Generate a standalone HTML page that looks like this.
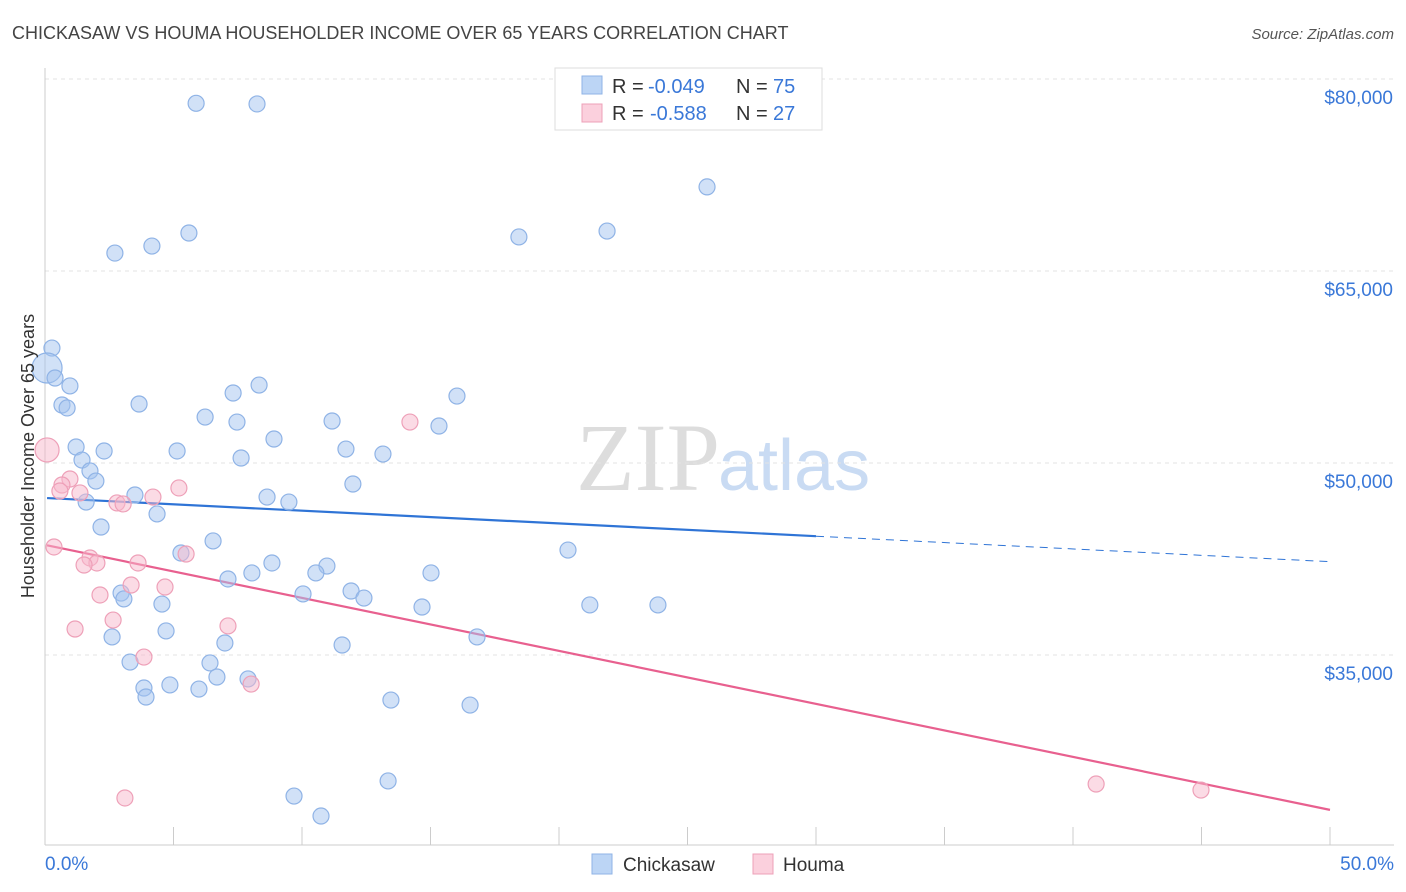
<!DOCTYPE html>
<html><head><meta charset="utf-8"><style>
body{margin:0;background:#fff;font-family:"Liberation Sans",sans-serif;}
svg{display:block}
</style></head><body>
<svg id="chart" width="1406" height="892">
<text x="12" y="39" font-size="18" fill="#444">CHICKASAW VS HOUMA HOUSEHOLDER INCOME OVER 65 YEARS CORRELATION CHART</text>
<text x="1394" y="39" font-size="15" fill="#555" font-style="italic" text-anchor="end">Source: ZipAtlas.com</text>
<text x="720" y="490" font-size="96" fill="#ddd" text-anchor="end" font-family="Liberation Serif">ZIP</text>
<text x="718" y="490" font-size="72" fill="#c9dbf3">atlas</text>
<g id="grid"></g><g id="axes"></g><g id="lines"></g><g id="pts"></g>
<text transform="translate(34,456) rotate(-90)" font-size="18" fill="#333" text-anchor="middle">Householder Income Over 65 years</text>
<g>
<rect x="555" y="68" width="267" height="62" fill="#fff" stroke="#ddd"/>
<rect x="582" y="76" width="20" height="18" fill="#bcd5f5" stroke="#8fb3e6"/>
<rect x="582" y="104" width="20" height="18" fill="#fbd0dd" stroke="#eea0b8"/>
<text x="612" y="93" font-size="20" fill="#333">R =</text><text x="648" y="93" font-size="20" fill="#3a78d8">-0.049</text>
<text x="736" y="93" font-size="20" fill="#333">N =</text><text x="773" y="93" font-size="20" fill="#3a78d8">75</text>
<text x="612" y="120" font-size="20" fill="#333">R =</text><text x="650" y="120" font-size="20" fill="#3a78d8">-0.588</text>
<text x="736" y="120" font-size="20" fill="#333">N =</text><text x="773" y="120" font-size="20" fill="#3a78d8">27</text>
</g>
<g>
<rect x="592" y="854" width="20" height="20" fill="#bcd5f5" stroke="#8fb3e6"/>
<text x="623" y="871" font-size="19" fill="#333">Chickasaw</text>
<rect x="753" y="854" width="20" height="20" fill="#fbd0dd" stroke="#eea0b8"/>
<text x="783" y="871" font-size="19" fill="#333">Houma</text>
</g>
</svg>
<script>
const yTicks=[80000,65000,50000,35000];
const xTickLabels=["0.0%","50.0%"];
const blueX=[5.88,8.25,25.76,2.72,4.16,5.60,18.44,21.87,0.27,0.08,0.39,0.97,0.66,0.86,3.66,7.32,8.33,16.03,6.23,7.47,11.17,8.91,1.21,2.30,5.14,11.71,13.15,15.33,1.44,1.75,1.98,7.63,11.98,1.60,3.50,4.36,8.64,9.49,2.18,6.54,5.29,20.35,8.83,10.97,10.54,8.05,7.12,15.02,11.91,12.41,10.04,2.96,3.07,4.55,14.67,21.20,23.85,4.71,2.61,7.00,11.56,16.81,3.31,6.42,6.69,7.90,3.85,4.86,5.99,3.93,13.46,16.54,13.35,9.69,10.74];
const blueY=[78100,78050,71570,66400,66950,67970,67660,68120,58980,57420,56640,56020,54530,54300,54610,55470,56090,55230,53590,53200,53280,51875,51250,50940,50940,51090,50700,52890,50230,49380,48590,50390,48360,46950,47500,46020,47340,46950,45000,43910,42970,43200,42190,41950,41410,41410,40940,41410,40000,39450,39770,39840,39380,38980,38750,38910,38910,36880,36410,35940,35780,36410,34450,34380,33280,33130,32420,32660,32340,31720,31480,31090,25160,23980,22420];
const pinkX=[0.08,0.35,0.97,0.66,1.36,0.58,2.80,3.04,4.20,5.21,5.49,1.75,2.02,1.52,3.62,3.35,2.14,4.67,2.65,1.17,7.12,3.85,8.02,14.20,3.11,40.90,44.98];
const pinkY=[51020,43440,48750,48280,47660,47810,46880,46800,47340,48050,42890,42580,42190,42030,42190,40470,39690,40310,37730,37030,37270,34840,32730,53200,23830,24920,24450];
const blueTrend=[47270,-99.6]; // intercept, slope per %
const pinkTrend=[43600,-414];
const X=p=>45+p*1285/50, Y=v=>79+(80000-v)*192/15000;
const NS="http://www.w3.org/2000/svg";
function mk(t,a,parent){const e=document.createElementNS(NS,t);for(const k in a)e.setAttribute(k,a[k]);document.getElementById(parent).appendChild(e);return e;}
yTicks.forEach(v=>{
 const g=mk('line',{x1:45,x2:1394,y1:Y(v),y2:Y(v),stroke:'#e3e3e3','stroke-dasharray':'4,4'},'grid');
 
 
 const t=mk('text',{x:1393,y:Y(v)+25,'font-size':19,fill:'#3a78d8','text-anchor':'end'},'axes');
 t.textContent='$'+v.toLocaleString('en-US');
 
 
});
mk('line',{x1:45,x2:45,y1:68,y2:845,stroke:'#ccc'},'axes');
mk('line',{x1:45,x2:1394,y1:845,y2:845,stroke:'#ccc'},'axes');
for(let i=0;i<=10;i++){mk('line',{x1:X(i*5),x2:X(i*5),y1:827,y2:845,stroke:'#ccc'},'axes');}
[[0,'start',45],[1,'end',1394]].forEach(([i,a,x])=>{const t=mk('text',{x:x,y:870,'font-size':19,fill:'#3a78d8','text-anchor':a},'axes');t.textContent=xTickLabels[i];
 
 });
function tl(tr,x0,x1,c,dash){const l=mk('line',{x1:X(x0),x2:X(x1),y1:Y(tr[0]+tr[1]*x0),y2:Y(tr[0]+tr[1]*x1),stroke:c,'stroke-width':dash?1:2.2,'stroke-dasharray':dash?'8,6':'none'},'lines');return l;}
let l=tl(blueTrend,0.08,30,'#2f74d6',false);


l=tl(blueTrend,30,50,'#2f74d6',true);


l=tl(pinkTrend,0.08,50,'#e8608f',false);


blueX.forEach((x,i)=>{const c=mk('circle',{cx:X(x),cy:Y(blueY[i]),r:i==9?15:8,fill:'rgba(164,196,240,0.5)',stroke:'#8fb3e6','stroke-width':1.2},'pts');
 
 });
pinkX.forEach((x,i)=>{const c=mk('circle',{cx:X(x),cy:Y(pinkY[i]),r:i==0?12:8,fill:'rgba(247,184,204,0.5)',stroke:'#eea0b8','stroke-width':1.2},'pts');
 
 });
</script>
</body></html>
